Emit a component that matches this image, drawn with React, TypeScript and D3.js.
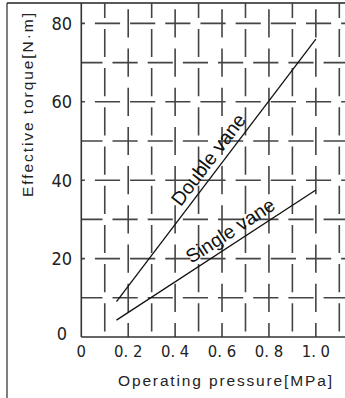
import React from "react";
import * as d3 from "d3";

const pressure = [0.15, 1.0];
const doubleVane = [9, 76];
const singleVane = [4.3, 37.5];
const xTicks = [0, 0.2, 0.4, 0.6, 0.8, 1.0];
const xTickLabels = ["0", "0. 2", "0. 4", "0. 6", "0. 8", "1. 0"];
const yTicks = [0, 20, 40, 60, 80];
const xGrid = [0.1, 0.2, 0.3, 0.4, 0.5, 0.6, 0.7, 0.8, 0.9, 1.0, 1.1];
const yGrid = [10, 20, 30, 40, 50, 60, 70, 80];
const xTitle = "Operating pressure[MPa]";
const yTitle = "Effective torque[N·m]";
const series = [
  { name: "Double vane", values: doubleVane, labelAt: 0.585 },
  { name: "Single vane", values: singleVane, labelAt: 0.665 },
];

const W = 345;
const H = 398;
const FONT = "'Liberation Sans Narrow', 'DejaVu Sans Condensed', 'Liberation Sans', sans-serif";
const FONT2 = "'Liberation Sans', Arial, sans-serif";

export default function App() {
  const x = d3.scaleLinear().domain([0, 1.1]).range([81.3, 339.3]);
  const y = d3.scaleLinear().domain([0, 80]).range([337, 23.4]);
  const top = 3;
  const right = W;
  const line = d3
    .line<[number, number]>()
    .x((d) => x(d[0]))
    .y((d) => y(d[1]));
  const ySpacing = y(0) - y(10);
  const xSpacing = x(0.1) - x(0);

  return (
    <div style={{ position: "absolute", left: 0, top: 0 }}>
      <svg width={W} height={H} style={{ display: "block", background: "#fff" }}>
        {/* frame */}
        <line x1={7} y1={top} x2={7} y2={H} stroke="#555" strokeWidth={1.5} />
        <line x1={7} y1={top} x2={right} y2={top} stroke="#222" strokeWidth={1.5} />
        {/* vertical grid */}
        {xGrid.map((v, i) => {
          const gapCenter = i % 2 === 0 ? y(80) - top : y(80) - top + ySpacing / 2;
          const off = 11 / 2 + 28.2 - gapCenter;
          return (
            <line
              key={"vx" + i}
              x1={x(v)}
              x2={x(v)}
              y1={top}
              y2={y(0)}
              stroke="#444"
              strokeWidth={1.6}
              strokeDasharray={`${ySpacing - 11} 11`}
              strokeDashoffset={off}
            />
          );
        })}
        {/* horizontal grid */}
        {yGrid.map((v, i) => {
          const period = xSpacing * 1.5;
          const off = i % 2 === 0 ? 4 : 4 + period / 2;
          return (
            <line
              key={"hy" + i}
              x1={x(0)}
              x2={right}
              y1={y(v)}
              y2={y(v)}
              stroke="#444"
              strokeWidth={1.6}
              strokeDasharray={`${period - 10} 10`}
              strokeDashoffset={off}
            />
          );
        })}
        {/* axes */}
        <line x1={x(0)} x2={x(0)} y1={top} y2={y(0)} stroke="#333" strokeWidth={1.6} />
        <line x1={x(0)} x2={right} y1={y(0)} y2={y(0)} stroke="#333" strokeWidth={1.6} />
        {/* y tick labels */}
        {yTicks.map((v) => (
          <text
            key={"yt" + v}
            x={v === 0 ? 67 : 72}
            y={y(v)}
            dy={v === 0 ? "0.15em" : "0.35em"}
            textAnchor="end"
            fontFamily={FONT}
            fontSize={18}
            fill="#222"
          >
            {v}
          </text>
        ))}
        {/* x tick labels */}
        {xTicks.map((v, i) => (
          <text
            key={"xt" + i}
            x={x(v)}
            y={357}
            textAnchor="middle"
            fontFamily={FONT}
            fontSize={16.5}
            fill="#222"
          >
            {xTickLabels[i]}
          </text>
        ))}
        {/* titles */}
        <text
          x={225}
          y={386}
          textAnchor="middle"
          fontFamily={FONT2}
          fontSize={15.5}
          textLength={214}
          lengthAdjust="spacing"
          fill="#222"
        >
          {xTitle}
        </text>
        <text
          transform={`translate(33,105) rotate(-90)`}
          textAnchor="middle"
          fontFamily={FONT2}
          fontSize={15.5}
          textLength={184}
          lengthAdjust="spacing"
          fill="#222"
        >
          {yTitle}
        </text>
        {/* series */}
        {series.map((s) => {
          const pts: [number, number][] = pressure.map((p, i) => [p, s.values[i]]);
          const dx = x(pressure[1]) - x(pressure[0]);
          const dy = y(s.values[1]) - y(s.values[0]);
          const ang = (Math.atan2(dy, dx) * 180) / Math.PI;
          const t = (s.labelAt - pressure[0]) / (pressure[1] - pressure[0]);
          const lv = s.values[0] + t * (s.values[1] - s.values[0]);
          const px = x(s.labelAt);
          const py = y(lv);
          return (
            <g key={s.name}>
              <path d={line(pts) || ""} fill="none" stroke="#111" strokeWidth={1.3} />
              <text
                transform={`translate(${px},${py}) rotate(${ang})`}
                y={-6}
                textAnchor="middle"
                fontFamily={FONT2}
                fontSize={19.5}
                fill="#111"
              >
                {s.name}
              </text>
            </g>
          );
        })}
      </svg>
    </div>
  );
}
